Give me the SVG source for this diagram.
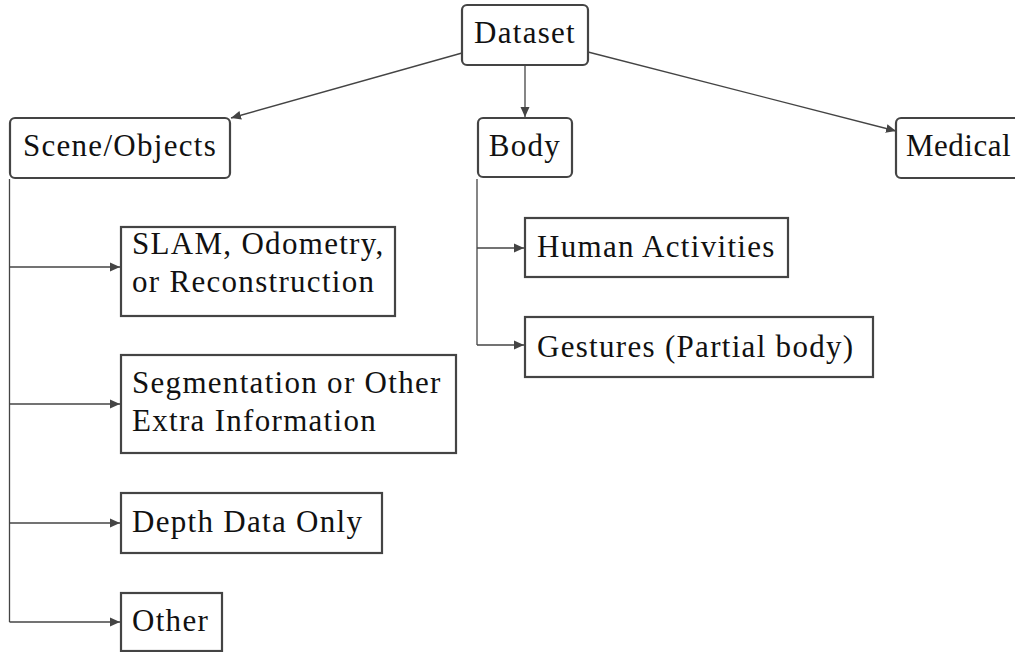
<svg xmlns="http://www.w3.org/2000/svg" width="1015" height="652" viewBox="0 0 1015 652" font-family="Liberation Serif">
<style>
.box{fill:#fff;stroke:#444;stroke-width:2.2}
.lbl{font-size:31px;letter-spacing:1.3px;fill:#111}
.c{text-anchor:middle}
.edge{fill:none;stroke:#444;stroke-width:1.3}
</style>
<defs>
<marker id="ah" viewBox="0 0 10 10" refX="10" refY="5" markerWidth="10" markerHeight="10" markerUnits="userSpaceOnUse" orient="auto">
<path d="M0,0.5 L10,5 L0,9.5 Z" fill="#444"/>
</marker>
</defs>
<rect width="1015" height="652" fill="#fff"/>
<g id="connectors">
<line class="edge" x1="462" y1="53" x2="231" y2="118" marker-end="url(#ah)"/>
<line class="edge" x1="525" y1="66" x2="525" y2="117" marker-end="url(#ah)"/>
<line class="edge" x1="588" y1="52" x2="896" y2="131" marker-end="url(#ah)"/>
<path class="edge" d="M477,179 V345"/>
<line class="edge" x1="477" y1="248" x2="524" y2="248" marker-end="url(#ah)"/>
<line class="edge" x1="477" y1="345" x2="524" y2="345" marker-end="url(#ah)"/>
<path class="edge" d="M9.5,179 V622"/>
<line class="edge" x1="9.5" y1="267" x2="120" y2="267" marker-end="url(#ah)"/>
<line class="edge" x1="9.5" y1="404" x2="120" y2="404" marker-end="url(#ah)"/>
<line class="edge" x1="9.5" y1="523" x2="120" y2="523" marker-end="url(#ah)"/>
<line class="edge" x1="9.5" y1="622" x2="120" y2="622" marker-end="url(#ah)"/>
</g>
<g id="dataset">
<rect class="box" x="462" y="5" width="126" height="60" rx="5"/>
<text class="lbl c" x="525" y="43" font-family="Liberation Serif">Dataset</text>
</g>
<g id="scene">
<rect class="box" x="10" y="118" width="220" height="60" rx="5"/>
<text class="lbl c" x="120" y="156" font-family="Liberation Serif">Scene/Objects</text>
</g>
<g id="body">
<rect class="box" x="478" y="118" width="94" height="59" rx="5"/>
<text class="lbl c" x="525" y="156" font-family="Liberation Serif">Body</text>
</g>
<g id="medical">
<rect class="box" x="896" y="118" width="140" height="60" rx="5"/>
<text class="lbl" x="906" y="156" font-family="Liberation Serif" style="letter-spacing:0.5px">Medical</text>
</g>
<g id="slam">
<rect class="box" x="121" y="227" width="274" height="89"/>
<text class="lbl" x="132" y="254" font-family="Liberation Serif">SLAM, Odometry,</text>
<text class="lbl" x="132" y="292" font-family="Liberation Serif">or Reconstruction</text>
</g>
<g id="segmentation">
<rect class="box" x="121" y="355" width="335" height="98"/>
<text class="lbl" x="132" y="393" font-family="Liberation Serif">Segmentation or Other</text>
<text class="lbl" x="132" y="431" font-family="Liberation Serif">Extra Information</text>
</g>
<g id="depth">
<rect class="box" x="121" y="493" width="261" height="60"/>
<text class="lbl" x="132" y="532" font-family="Liberation Serif">Depth Data Only</text>
</g>
<g id="other">
<rect class="box" x="121" y="593" width="101" height="58"/>
<text class="lbl" x="132" y="631" font-family="Liberation Serif">Other</text>
</g>
<g id="human">
<rect class="box" x="525" y="218" width="263" height="59"/>
<text class="lbl" x="537" y="257" font-family="Liberation Serif">Human Activities</text>
</g>
<g id="gestures">
<rect class="box" x="525" y="317" width="348" height="60"/>
<text class="lbl" x="537" y="357" font-family="Liberation Serif">Gestures (Partial body)</text>
</g>
</svg>
